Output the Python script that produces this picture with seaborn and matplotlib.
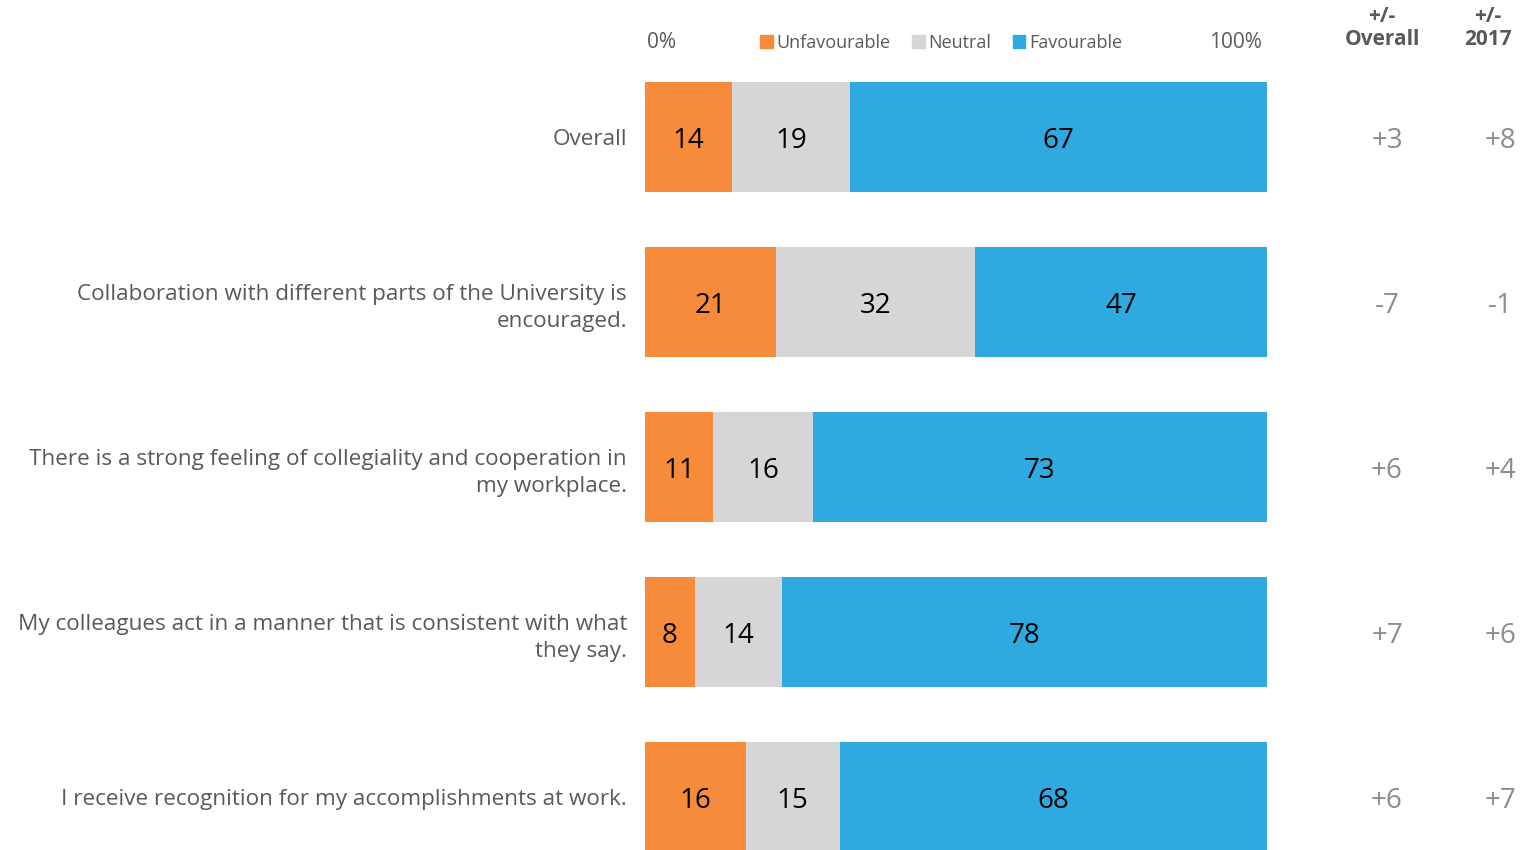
import matplotlib
matplotlib.use("Agg")
import matplotlib.pyplot as plt
from matplotlib.patches import Patch
import seaborn as sns
import pandas as pd

categories = [
    "Overall",
    "Collaboration with different parts of the University is\nencouraged.",
    "There is a strong feeling of collegiality and cooperation in\nmy workplace.",
    "My colleagues act in a manner that is consistent with what\nthey say.",
    "I receive recognition for my accomplishments at work.",
]
unfavourable = [14, 21, 11, 8, 16]
neutral = [19, 32, 16, 14, 15]
favourable = [67, 47, 73, 78, 68]
diff_overall = ["+3", "-7", "+6", "+7", "+6"]
diff_2017 = ["+8", "-1", "+4", "+6", "+7"]

c_unfav = "#F58B3B"
c_neut = "#D6D6D6"
c_fav = "#2EAAE1"
grey = "#595959"
light = "#8C8C8C"

sns.set_theme(style="white")
plt.rcParams["font.family"] = ["Open Sans", "DejaVu Sans"]

df = pd.DataFrame({"q": categories, "u": unfavourable, "n": neutral, "f": favourable})
tot = df["u"] + df["n"] + df["f"]
# stacked shares scaled to full width
df["s_u"] = df["u"] / tot * 100
df["s_un"] = (df["u"] + df["n"]) / tot * 100
df["s_all"] = 100.0

fig = plt.figure(figsize=(15.22, 8.5), dpi=100)
ax = fig.add_axes([645 / 1522, 0, 622 / 1522, (850 - 54.5) / 850])

for col, c in [("s_all", c_fav), ("s_un", c_neut), ("s_u", c_unfav)]:
    sns.barplot(data=df, y="q", x=col, color=c, width=0.667, orient="h", ax=ax,
                saturation=1, linewidth=0)

for i in range(len(categories)):
    ax.text(df["s_u"][i] / 2, i, str(unfavourable[i]), ha="center", va="center_baseline", fontsize=20, color="black")
    ax.text((df["s_u"][i] + df["s_un"][i]) / 2, i, str(neutral[i]), ha="center", va="center_baseline", fontsize=20, color="black")
    ax.text((df["s_un"][i] + 100) / 2, i, str(favourable[i]), ha="center", va="center_baseline", fontsize=20, color="black")
    ax.text(119.3, i, diff_overall[i], ha="center", va="center_baseline", fontsize=20, color=light, clip_on=False)
    ax.text(137.5, i, diff_2017[i], ha="center", va="center_baseline", fontsize=20, color=light, clip_on=False)

ax.set_xlim(0, 100)
ax.set_ylim(4.321, -0.5)
ax.set_xlabel("")
ax.set_ylabel("")
ax.set_xticks([])
ax.tick_params(axis="y", length=0, pad=13, labelsize=16.2, labelcolor=grey)
for lab in ax.get_yticklabels():
    lab.set_linespacing(1.4)
for s in ax.spines.values():
    s.set_visible(False)

fig.text(647 / 1522, 1 - 42 / 850, "0%", ha="left", va="center", fontsize=15, color=grey)
fig.text(1262 / 1522, 1 - 42 / 850, "100%", ha="right", va="center", fontsize=15, color=grey)
fig.text(1382 / 1522, 1 - 28 / 850, "+/-\nOverall", ha="center", va="center", fontsize=15,
         color=grey, fontweight="bold", linespacing=1.15)
fig.text(1488 / 1522, 1 - 28 / 850, "+/-\n2017", ha="center", va="center", fontsize=15,
         color=grey, fontweight="bold", linespacing=1.15)

handles = [Patch(color=c_unfav), Patch(color=c_neut), Patch(color=c_fav)]
fig.legend(handles, ["Unfavourable", "Neutral", "Favourable"], loc="center",
           bbox_to_anchor=(941 / 1522, 1 - 43 / 850), ncol=3, frameon=False,
           fontsize=13, labelcolor=grey, handlelength=0.7, handleheight=0.7,
           handletextpad=0.2, columnspacing=1.2)

fig.savefig("out.png", dpi=100)
